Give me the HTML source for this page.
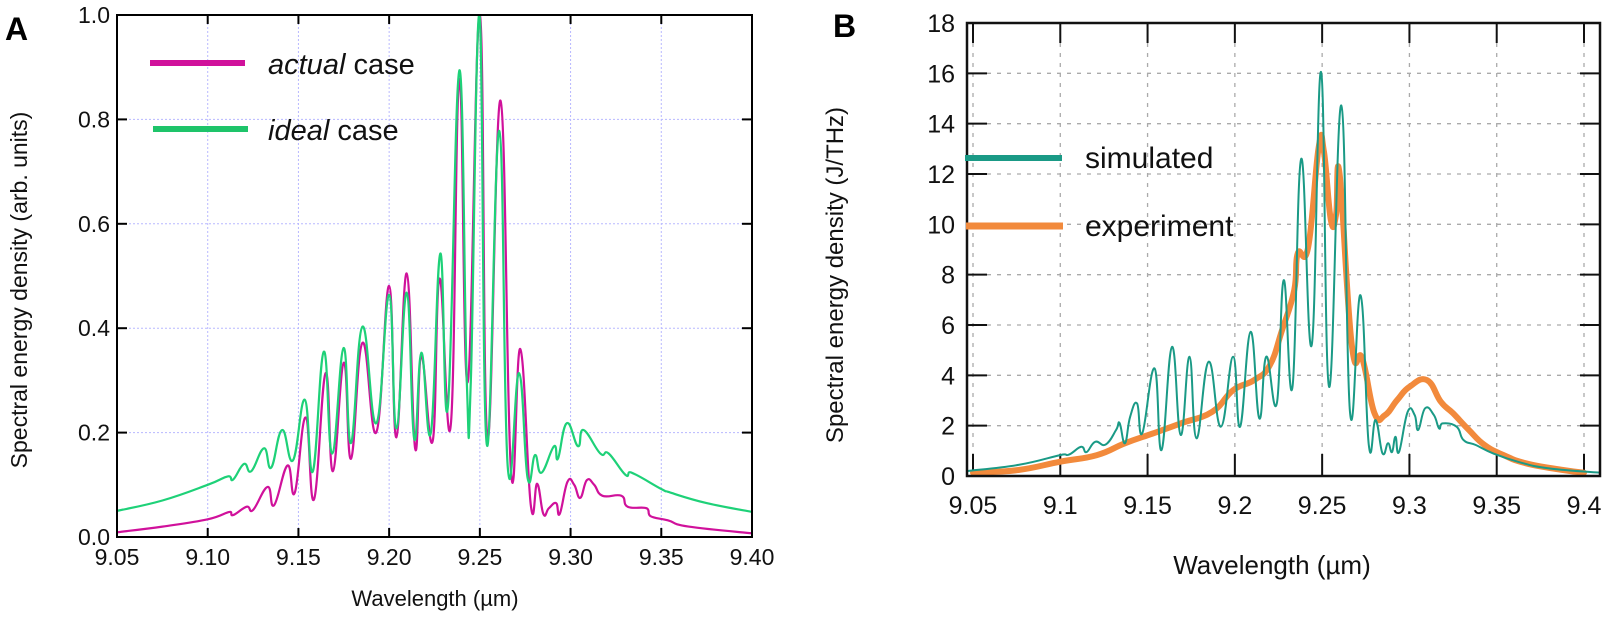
<!DOCTYPE html>
<html><head><meta charset="utf-8">
<style>
html,body{margin:0;padding:0;background:#fff;}
svg{display:block;}
text{font-family:"Liberation Sans",sans-serif;}
</style></head>
<body>
<svg id="chart" width="1606" height="623" viewBox="0 0 1606 623" xmlns="http://www.w3.org/2000/svg">
<defs>
<clipPath id="clipA"><rect x="117" y="15" width="635" height="522"/></clipPath>
<clipPath id="clipB"><rect x="967" y="23" width="633" height="453"/></clipPath>
</defs>
<g id="panelA"></g>
<g id="panelB"></g>
</svg>
<script>
// ---- Panel A data ----
const aXTicks = [9.05, 9.10, 9.15, 9.20, 9.25, 9.30, 9.35, 9.40];
const aXTickLabels = ["9.05","9.10","9.15","9.20","9.25","9.30","9.35","9.40"];
const aYTicks = [0, 0.2, 0.4, 0.6, 0.8, 1.0];
const aYTickLabels = ["0.0","0.2","0.4","0.6","0.8","1.0"];
const idealWl = [9.05,9.075,9.10,9.111,9.114,9.12,9.124,9.131,9.135,9.141,9.147,9.1535,9.158,9.164,9.1686,9.1749,9.179,9.1853,9.193,9.2,9.204,9.2097,9.2138,9.2178,9.223,9.2282,9.2324,9.2387,9.2428,9.245,9.2498,9.2538,9.2607,9.2654,9.2716,9.2763,9.2804,9.2839,9.2909,9.293,9.2979,9.3041,9.3071,9.3164,9.321,9.3303,9.3338,9.35,9.355,9.375,9.40];
const idealVal = [0.05,0.07,0.10,0.116,0.11,0.14,0.126,0.17,0.133,0.205,0.147,0.263,0.126,0.355,0.16,0.362,0.18,0.403,0.218,0.464,0.208,0.468,0.188,0.353,0.2,0.543,0.25,0.894,0.297,0.297,1.0,0.177,0.778,0.133,0.314,0.113,0.157,0.123,0.174,0.15,0.218,0.174,0.205,0.16,0.16,0.119,0.123,0.092,0.085,0.065,0.048];
const actualWl = [9.05,9.075,9.10,9.112,9.114,9.1215,9.125,9.133,9.1366,9.144,9.148,9.154,9.1586,9.165,9.169,9.175,9.179,9.1853,9.193,9.2,9.204,9.2097,9.2143,9.2178,9.224,9.2278,9.234,9.2387,9.2433,9.25,9.2542,9.2614,9.2672,9.2723,9.2781,9.2816,9.285,9.288,9.292,9.294,9.2983,9.302,9.3053,9.309,9.313,9.3176,9.328,9.3315,9.342,9.344,9.3536,9.365,9.40];
const actualVal = [0.009,0.02,0.034,0.048,0.042,0.058,0.052,0.096,0.061,0.137,0.085,0.229,0.072,0.314,0.126,0.334,0.15,0.372,0.201,0.481,0.191,0.505,0.17,0.346,0.184,0.495,0.215,0.877,0.297,1.0,0.191,0.836,0.123,0.36,0.061,0.102,0.044,0.055,0.065,0.044,0.106,0.1,0.075,0.109,0.1,0.079,0.079,0.058,0.055,0.04,0.032,0.02,0.007];

// ---- Panel B data ----
const bXTicks = [9.05, 9.1, 9.15, 9.2, 9.25, 9.3, 9.35, 9.4];
const bXTickLabels = ["9.05","9.1","9.15","9.2","9.25","9.3","9.35","9.4"];
const bYTicks = [0,2,4,6,8,10,12,14,16,18];
const bYTickLabels = ["0","2","4","6","8","10","12","14","16","18"];
const simWl = [9.047,9.076,9.1,9.105,9.112,9.115,9.12,9.126,9.132,9.134,9.137,9.14,9.144,9.147,9.154,9.158,9.164,9.169,9.174,9.178,9.185,9.192,9.199,9.203,9.209,9.214,9.218,9.224,9.228,9.233,9.238,9.244,9.2494,9.254,9.261,9.266,9.272,9.2767,9.2806,9.2846,9.2877,9.29,9.292,9.294,9.299,9.303,9.305,9.309,9.314,9.317,9.319,9.327,9.331,9.338,9.348,9.362,9.38,9.41];
const simVal = [0.2,0.44,0.83,0.85,1.16,0.95,1.36,1.25,1.83,2.1,1.3,2.35,2.88,1.7,4.27,1.03,5.13,1.63,4.74,1.5,4.54,1.96,4.74,1.96,5.73,2.29,4.74,2.88,7.78,3.54,12.6,5.2,16.05,3.54,14.72,2.49,7.18,1.23,2.22,0.9,1.3,0.95,1.56,0.95,2.55,2.42,1.83,2.69,2.42,1.89,2.09,1.96,1.43,1.23,0.9,0.57,0.3,0.13];
const expWl = [9.05,9.076,9.1,9.121,9.137,9.153,9.169,9.187,9.199,9.211,9.22,9.227,9.234,9.236,9.242,9.248,9.251,9.255,9.258,9.26,9.267,9.273,9.28,9.286,9.293,9.3,9.31,9.318,9.325,9.334,9.343,9.354,9.367,9.388,9.4];
const expVal = [0.13,0.24,0.57,0.83,1.3,1.69,2.09,2.55,3.41,3.81,4.4,5.79,7.38,8.84,9.1,13.07,12.9,10.16,10.4,12.0,5.2,4.67,2.49,2.42,3.02,3.54,3.81,2.95,2.49,1.83,1.23,0.83,0.5,0.24,0.13];

const NS = "http://www.w3.org/2000/svg";
function mk(parent, tag, attrs, text){
  const e = document.createElementNS(NS, tag);
  for (const k in attrs) e.setAttribute(k, attrs[k]);
  if (text !== undefined) e.textContent = text;
  parent.appendChild(e);
  return e;
}
// smooth Catmull-Rom path through data points (mapped by axis functions)
function pathD(xs, ys, fx, fy){
  const P = xs.map((x,i)=>[fx(x), fy(ys[i])]);
  let d = "M"+P[0][0].toFixed(1)+","+P[0][1].toFixed(1);
  const t = 0.22;
  for (let i=0;i<P.length-1;i++){
    const p0=P[Math.max(i-1,0)], p1=P[i], p2=P[i+1], p3=P[Math.min(i+2,P.length-1)];
    const c1=[p1[0]+(p2[0]-p0[0])*t, p1[1]+(p2[1]-p0[1])*t];
    const c2=[p2[0]-(p3[0]-p1[0])*t, p2[1]-(p3[1]-p1[1])*t];
    c1[0]=Math.min(Math.max(c1[0],p1[0]),p2[0]); c2[0]=Math.min(Math.max(c2[0],p1[0]),p2[0]);
    d += " C"+c1[0].toFixed(1)+","+c1[1].toFixed(1)+" "+c2[0].toFixed(1)+","+c2[1].toFixed(1)+" "+p2[0].toFixed(1)+","+p2[1].toFixed(1);
  }
  return d;
}

// ===== Panel A =====
const gA = document.getElementById('panelA');
const aL=117, aR=752, aT=15, aB=537;
const ax = v => aL + (v-9.05)/(0.35)*(aR-aL);
const ay = v => aB - v*(aB-aT);
aXTicks.forEach((t,i)=>{
  const x = ax(t);
  if (i>0 && i<aXTicks.length-1){
    const g = mk(gA,'line',{x1:x,y1:aT,x2:x,y2:aB,stroke:'#b8b8ff','stroke-width':1,'stroke-dasharray':'2,2'});
    
    
  }
  const tk = mk(gA,'line',{x1:x,y1:aB,x2:x,y2:aB-9,stroke:'#000','stroke-width':2});
  
  
  const tk2 = mk(gA,'line',{x1:x,y1:aT,x2:x,y2:aT+9,stroke:'#000','stroke-width':2});
  
  
  const lb = mk(gA,'text',{x:x,y:aB+28,'font-size':23,'text-anchor':'middle',fill:'#111'},aXTickLabels[i]);
  
  
});
aYTicks.forEach((t,i)=>{
  const y = ay(t);
  if (i>0 && i<aYTicks.length-1){
    const g = mk(gA,'line',{x1:aL,y1:y,x2:aR,y2:y,stroke:'#b8b8ff','stroke-width':1,'stroke-dasharray':'2,2'});
    
    
  }
  const tk = mk(gA,'line',{x1:aL,y1:y,x2:aL+10,y2:y,stroke:'#000','stroke-width':2});
  
  
  const tk2 = mk(gA,'line',{x1:aR,y1:y,x2:aR-10,y2:y,stroke:'#000','stroke-width':2});
  
  
  const lb = mk(gA,'text',{x:aL-7,y:y+8,'font-size':23,'text-anchor':'end',fill:'#111'},aYTickLabels[i]);
  
  
});
const actual = mk(gA,'path',{d:pathD(actualWl,actualVal,ax,ay),fill:'none',stroke:'#d0119b','stroke-width':2.2,'clip-path':'url(#clipA)','stroke-linejoin':'round'});


const ideal = mk(gA,'path',{d:pathD(idealWl,idealVal,ax,ay),fill:'none',stroke:'#1ed178','stroke-width':2.2,'clip-path':'url(#clipA)','stroke-linejoin':'round'});


const frameA = mk(gA,'rect',{x:aL,y:aT,width:aR-aL,height:aB-aT,fill:'none',stroke:'#000','stroke-width':2});



let e;
e=mk(gA,'text',{x:5,y:40,'font-size':32,'font-weight':'bold',fill:'#000'},'A');


e=mk(gA,'text',{x:27,y:290,'font-size':23,'text-anchor':'middle',fill:'#111',transform:'rotate(-90 27 290)'},'Spectral energy density (arb. units)');


e=mk(gA,'text',{x:435,y:606,'font-size':22,'text-anchor':'middle',fill:'#111'},'Wavelength (µm)');


e=mk(gA,'line',{x1:150,y1:63,x2:245,y2:63,stroke:'#d0119b','stroke-width':6});


e=mk(gA,'text',{x:268,y:74,'font-size':29,fill:'#111'});
e.innerHTML='<tspan font-style="italic">actual</tspan> case';


e=mk(gA,'line',{x1:153,y1:129,x2:248,y2:129,stroke:'#1ec46a','stroke-width':6});


e=mk(gA,'text',{x:268,y:140,'font-size':29,fill:'#111'});
e.innerHTML='<tspan font-style="italic">ideal</tspan> case';



// ===== Panel B =====
const gB = document.getElementById('panelB');
const bL=967, bR=1600, bT=23, bB=476;
const x905=973, x940=1584;
const bx = v => x905 + (v-9.05)/0.35*(x940-x905);
const by = v => bB - v/18*(bB-bT);
bXTicks.forEach((t,i)=>{
  const x=bx(t);
  e=mk(gB,'line',{x1:x,y1:bT,x2:x,y2:bB,stroke:'#aaa','stroke-width':1.3,'stroke-dasharray':'4,6'});
  
  
  e=mk(gB,'line',{x1:x,y1:bB,x2:x,y2:bB-22,stroke:'#111','stroke-width':2});
  
  
  e=mk(gB,'line',{x1:x,y1:bT,x2:x,y2:bT+20,stroke:'#111','stroke-width':2});
  
  
  e=mk(gB,'text',{x:x,y:bB+38,'font-size':25,'text-anchor':'middle',fill:'#111'},bXTickLabels[i]);
  
  
});
bYTicks.forEach((t,i)=>{
  const y=by(t);
  if(i>0 && i<bYTicks.length-1){
    e=mk(gB,'line',{x1:bL,y1:y,x2:bR,y2:y,stroke:'#aaa','stroke-width':1.3,'stroke-dasharray':'4,6'});
    
    
  }
  e=mk(gB,'line',{x1:bL,y1:y,x2:bL+20,y2:y,stroke:'#111','stroke-width':2});
  
  
  e=mk(gB,'line',{x1:bR,y1:y,x2:bR-20,y2:y,stroke:'#111','stroke-width':2});
  
  
  e=mk(gB,'text',{x:bL-12,y:y+9,'font-size':25,'text-anchor':'end',fill:'#111'},bYTickLabels[i]);
  
  
});
e=mk(gB,'path',{d:pathD(expWl,expVal,bx,by),fill:'none',stroke:'#f28a3c','stroke-width':6,'clip-path':'url(#clipB)','stroke-linejoin':'round','stroke-linecap':'round'});


e=mk(gB,'path',{d:pathD(simWl,simVal,bx,by),fill:'none',stroke:'#1a9a86','stroke-width':2,'clip-path':'url(#clipB)','stroke-linejoin':'round'});


e=mk(gB,'rect',{x:bL,y:bT,width:bR-bL,height:bB-bT,fill:'none',stroke:'#111','stroke-width':2.5});


e=mk(gB,'text',{x:833,y:37,'font-size':32,'font-weight':'bold',fill:'#000'},'B');


e=mk(gB,'text',{x:843,y:275,'font-size':24,'text-anchor':'middle',fill:'#111',transform:'rotate(-90 843 275)'},'Spectral energy density (J/THz)');


e=mk(gB,'text',{x:1272,y:574,'font-size':26,'text-anchor':'middle',fill:'#111'},'Wavelength (µm)');


e=mk(gB,'line',{x1:965,y1:158,x2:1062,y2:158,stroke:'#1a9a86','stroke-width':6});


e=mk(gB,'text',{x:1085,y:168,'font-size':30,fill:'#111'},'simulated');


e=mk(gB,'line',{x1:966,y1:226,x2:1063,y2:226,stroke:'#f28a3c','stroke-width':7});


e=mk(gB,'text',{x:1085,y:236,'font-size':30,fill:'#111'},'experiment');


</script>
</body></html>
